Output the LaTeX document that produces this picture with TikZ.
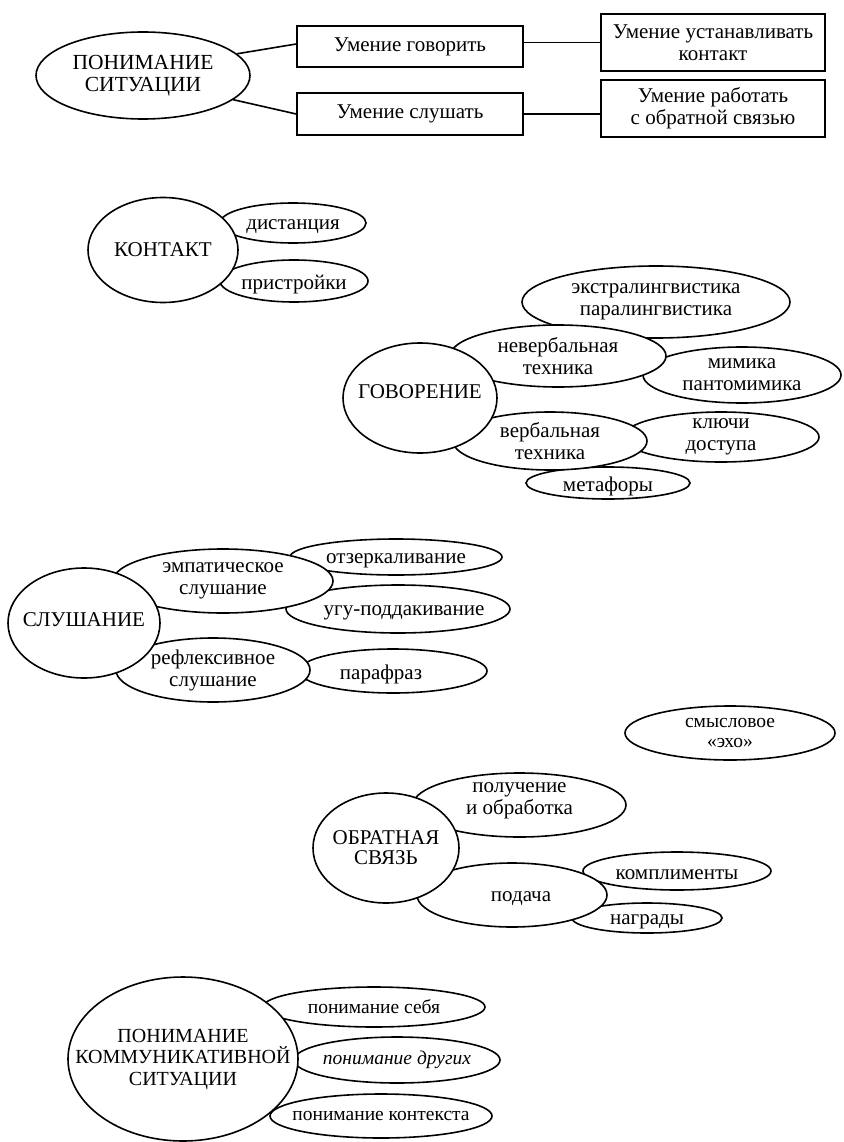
\documentclass[tikz,border=0pt]{standalone}
\usepackage{fontspec}
\setmainfont{Liberation Serif}
\usetikzlibrary{shapes.geometric}
\newcommand\ftxt{\fontsize{21}{22}\selectfont}
\newcommand\fttl{\fontsize{21.5}{21.5}\selectfont}
\newcommand\fobr{\fontsize{21}{20}\selectfont}
\newcommand\fsmall{\fontsize{19.5}{19.5}\selectfont}
\newcommand\fkom{\fontsize{19.5}{20}\selectfont}
\newcommand\fkomt{\fontsize{20}{21.5}\selectfont}
\tikzset{
  el/.style={ellipse, draw, fill=white, line width=1.6pt, inner sep=0pt},
  lab/.style={font=\ftxt, align=center, inner sep=0pt},
  labone/.style={lab, yshift=-3.5pt},
  bx/.style={rectangle, draw, fill=white, line width=1.6pt, inner sep=0pt, align=center, font=\ftxt},
  link/.style={line width=1.6pt}
}
\begin{document}
\begin{tikzpicture}[x=1pt,y=-1pt]
\fill[white] (0,0) rectangle (843,1142);
\useasboundingbox (0,0) rectangle (843,1142);

% ---------- top ----------
\node[el, minimum width=214pt, minimum height=87pt, label={[lab,font=\fttl]center:ПОНИМАНИЕ\\СИТУАЦИИ}] (sit) at (143,75.5) {};
\node[bx, minimum width=226pt, minimum height=41pt] (b1) at (410,46.5) {Умение говорить};
\node[bx, minimum width=226pt, minimum height=42pt] (b2) at (410,114) {Умение слушать};
\node[bx, minimum width=224pt, minimum height=57pt] (b3) at (713,42.5) {Умение устанавливать\\контакт};
\node[bx, minimum width=224pt, minimum height=57pt] (b4) at (713,108.5) {Умение работать\\с обратной связью};
\draw[link] (sit.13) -- ([yshift=2.5pt]b1.west);
\draw[link] (sit.-15) -- (b2.west);
\draw[link] (b3.west -| b1.east) -- (b3.west);
\draw[link] (b2.east) -- (b2.east -| b4.west);

% ---------- КОНТАКТ ----------
\node[el, minimum width=146pt, minimum height=40pt, label={[labone]center:дистанция}] (dist) at (293,223) {};
\node[el, minimum width=148pt, minimum height=42pt, label={[labone]center:пристройки}] (pristr) at (294,281) {};
\node[el, minimum width=150pt, minimum height=105pt, label={[lab]center:КОНТАКТ}] (kont) at (163,250) {};

% ---------- ГОВОРЕНИЕ ----------
\node[el, minimum width=268pt, minimum height=72pt, label={[lab]center:экстралингвистика\\паралингвистика}] (extra) at (656,302) {};
\node[el, minimum width=198pt, minimum height=56pt, label={[lab]center:мимика\\пантомимика}] (mim) at (742,375) {};
\node[el, minimum width=196pt, minimum height=50pt, label={[lab]center:ключи\\доступа}] (kl) at (721,437) {};
\node[el, minimum width=164pt, minimum height=32pt, label={[labone]center:метафоры}] (met) at (608,483) {};
\node[el, minimum width=216pt, minimum height=62pt, label={[lab]center:невербальная\\техника}] (nev) at (558,356) {};
\node[el, minimum width=194pt, minimum height=58pt, label={[lab]center:вербальная\\техника}] (verb) at (550,441) {};
\node[el, minimum width=154pt, minimum height=110pt, label={[lab,yshift=6pt]center:ГОВОРЕНИЕ}] (gov) at (420,398) {};

% ---------- СЛУШАНИЕ ----------
\node[el, minimum width=212pt, minimum height=36pt, label={[labone]center:отзеркаливание}] (otz) at (396,557) {};
\node[el, minimum width=224pt, minimum height=48pt, label={[labone,xshift=6pt]center:угу-поддакивание}] (ugu) at (398,609) {};
\node[el, minimum width=188pt, minimum height=44pt, label={[labone,xshift=-12pt]center:парафраз}] (par) at (393,671) {};
\node[el, minimum width=220pt, minimum height=64pt, label={[lab]center:эмпатическое\\слушание}] (emp) at (223,581) {};
\node[el, minimum width=194pt, minimum height=64pt, label={[lab]center:рефлексивное\\слушание}] (ref) at (213,670) {};
\node[el, minimum width=152pt, minimum height=110pt, label={[lab,yshift=3pt]center:СЛУШАНИЕ}] (slu) at (84,623) {};

% ---------- смысловое эхо ----------
\node[el, minimum width=210pt, minimum height=54pt, label={[lab,font=\fsmall]center:смысловое\\«эхо»}] (smy) at (730,733) {};

% ---------- ОБРАТНАЯ СВЯЗЬ ----------
\node[el, minimum width=188pt, minimum height=38pt, label={[labone]center:комплименты}] (komp) at (677,871) {};
\node[el, minimum width=150pt, minimum height=30pt, label={[labone]center:награды}] (nag) at (647,918) {};
\node[el, minimum width=213pt, minimum height=64pt, label={[lab,yshift=4pt]center:получение\\и обработка}] (pol) at (519.5,805) {};
\node[el, minimum width=190pt, minimum height=64pt, label={[labone,xshift=9pt]center:подача}] (pod) at (512,895) {};
\node[el, minimum width=146pt, minimum height=110pt, label={[lab,font=\fobr]center:ОБРАТНАЯ\\СВЯЗЬ}] (obr) at (386,848) {};

% ---------- ПОНИМАНИЕ КОММУНИКАТИВНОЙ СИТУАЦИИ ----------
\node[el, minimum width=222pt, minimum height=40pt, label={[lab,font=\fkom]center:понимание себя}] (seb) at (374,1007) {};
\node[el, minimum width=206pt, minimum height=46pt, label={[lab,font=\fkom\itshape]center:понимание других}] (dru) at (397,1060) {};
\node[el, minimum width=222pt, minimum height=44pt, label={[lab,font=\fkom]center:понимание контекста}] (ktx) at (381,1116) {};
\node[el, minimum width=230pt, minimum height=164pt, label={[lab,font=\fkomt]center:ПОНИМАНИЕ\\КОММУНИКАТИВНОЙ\\СИТУАЦИИ}] (komm) at (183,1059) {};
\end{tikzpicture}
\end{document}
